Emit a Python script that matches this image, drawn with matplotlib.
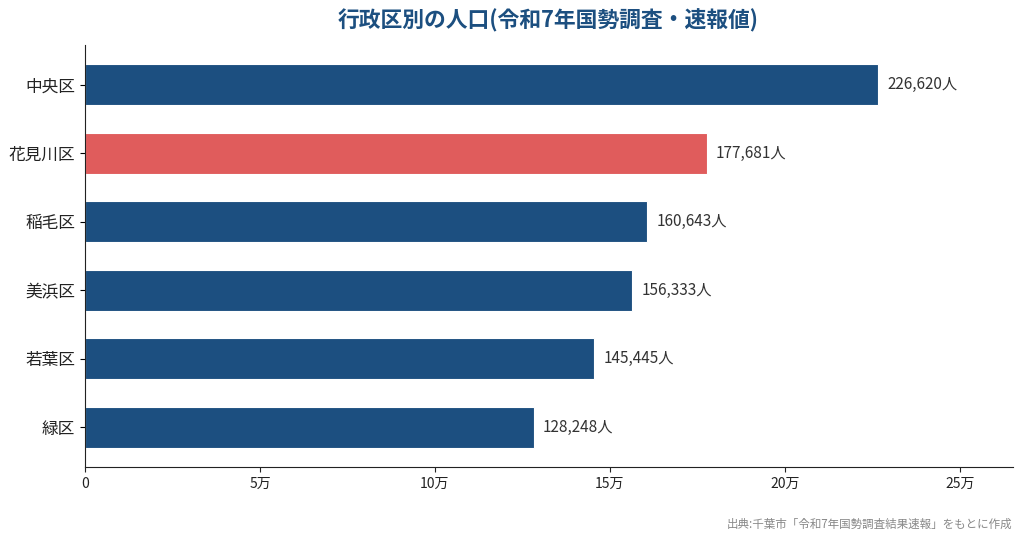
import matplotlib
matplotlib.use("Agg")
import matplotlib.pyplot as plt
from matplotlib.ticker import FuncFormatter

plt.rcParams['font.family'] = ['Noto Sans CJK JP', 'DejaVu Sans']

# Data (top to bottom)
wards = ['中央区', '花見川区', '稲毛区', '美浜区', '若葉区', '緑区']
population = [226620, 177681, 160643, 156333, 145445, 128248]
highlight = '花見川区'

blue = '#1c4f80'
red = '#e05c5c'
colors = [red if w == highlight else blue for w in wards]

fig = plt.figure(figsize=(10.24, 5.42), dpi=100)
ax = fig.add_axes([0.083, 0.138, 0.906, 0.779])

ypos = list(range(len(wards)))
ax.barh(ypos, population, height=0.6, color=colors, edgecolor='white', linewidth=0.8)
ax.invert_yaxis()
ax.set_yticks(ypos)
ax.set_yticklabels(wards, fontsize=12, color='#222222')

xmax = max(population) * 1.17
ax.set_xlim(0, xmax)
ax.set_xticks([0, 50000, 100000, 150000, 200000, 250000])
ax.xaxis.set_major_formatter(FuncFormatter(lambda v, p: '0' if v == 0 else f'{int(v / 10000)}万'))
ax.tick_params(axis='x', labelsize=10, colors='#222222')

for y, v in zip(ypos, population):
    ax.text(v + xmax * 0.01, y, f'{v:,}人', va='center', ha='left', fontsize=11, color='#333333')

ax.spines['top'].set_visible(False)
ax.spines['right'].set_visible(False)
ax.spines['left'].set_color('#222222')
ax.spines['bottom'].set_color('#222222')

fig.text(0.535, 0.962, '行政区別の人口(令和7年国勢調査・速報値)', ha='center', va='center',
         fontsize=15.7, fontweight='bold', color='#1c4f80')
fig.text(0.989, 0.033, '出典:千葉市「令和7年国勢調査結果速報」をもとに作成', ha='right', va='center',
         fontsize=8.3, color='#888888')

fig.savefig('out.png', dpi=100)
